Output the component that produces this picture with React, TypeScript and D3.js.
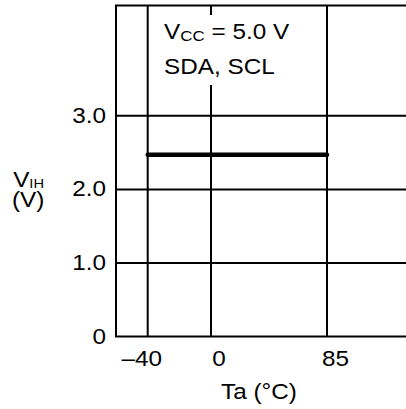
import React from "react";
import * as d3 from "d3";

const xTicks = [-40, 0, 85];
const xTickLabels = ["\u201340", "0", "85"];
const yTicks = [0, 1, 2, 3];
const yTickLabels = ["0", "1.0", "2.0", "3.0"];
const gridY = [1, 2, 3];
const lineTemps = [-40, 85];
const lineVih = [2.47, 2.47];

const W = 406;
const H = 409;
const FONT = "'Liberation Sans', Arial, Helvetica, sans-serif";
const FS = 21.5;
const SX = 1.13;

export default function App() {
  // the reference axis is schematic (not linear), so use a polylinear scale
  const x = d3.scaleLinear().domain([-60, -40, 0, 85, 115]).range([116, 147.7, 211, 327, 420]);
  const y = d3.scaleLinear().domain([0, 4.5]).range([336.5, 5.5]);
  const x0 = x(-60);
  const xR = x(115);
  const yB = y(0);
  const yT = y(4.5);
  const pts = lineTemps.map((t, i) => [t, lineVih[i]] as [number, number]);
  const line = d3
    .line<[number, number]>()
    .x((d) => x(d[0]))
    .y((d) => y(d[1]));
  const xLabelDx = [-6, 8, 8.5];

  const T = (props: { x: number; y: number; anchor?: string; children: React.ReactNode }) => (
    <text
      transform={`translate(${props.x},${props.y}) scale(${SX},1)`}
      textAnchor={props.anchor || "start"}
      fontFamily={FONT}
      fontSize={FS}
      fill="#000"
    >
      {props.children}
    </text>
  );

  return (
    <svg width={W} height={H} style={{ position: "absolute", left: 0, top: 0, background: "#fff" }}>
      <rect x={0} y={0} width={W} height={H} fill="#fff" />
      {/* vertical grid */}
      {xTicks.map((t) => (
        <line key={"vx" + t} x1={x(t)} x2={x(t)} y1={yT} y2={yB} stroke="#000" strokeWidth={2} />
      ))}
      {/* horizontal grid */}
      {gridY.map((v) => (
        <line key={"hy" + v} x1={x0} x2={xR} y1={y(v)} y2={y(v)} stroke="#000" strokeWidth={2} />
      ))}
      {/* frame */}
      <rect x={x0} y={yT} width={xR - x0} height={yB - yT} fill="none" stroke="#000" strokeWidth={2} />
      {/* annotation box */}
      <rect x={158} y={15} width={140} height={70} fill="#fff" />
      <text transform={`translate(164,38.5) scale(${SX},1)`} fontFamily={FONT} fontSize={FS} fill="#000">
        V
        <tspan fontSize={15} dy={2.5}>CC</tspan>
        <tspan dy={-2.5}> = 5.0 V</tspan>
      </text>
      <T x={164} y={73.5}>SDA, SCL</T>
      {/* data line */}
      <path d={line(pts) || ""} fill="none" stroke="#000" strokeWidth={4.5} strokeLinecap="round" />
      {/* y tick labels */}
      {yTicks.map((v, i) => (
        <T key={"yl" + v} x={106} y={y(v) + 7} anchor="end">
          {yTickLabels[i]}
        </T>
      ))}
      {/* x tick labels */}
      {xTicks.map((t, i) => (
        <T key={"xl" + t} x={x(t) + xLabelDx[i]} y={366} anchor="middle">
          {xTickLabels[i]}
        </T>
      ))}
      {/* axis titles */}
      <T x={259} y={399} anchor="middle">Ta (°C)</T>
      <text transform={`translate(12,187) scale(${SX},1)`} fontFamily={FONT} fontSize={FS} fill="#000">
        <tspan x={1}>V</tspan>
        <tspan fontSize={13} dy={0.5}>IH</tspan>
        <tspan x={0} dy={19}>(V)</tspan>
      </text>
    </svg>
  );
}
